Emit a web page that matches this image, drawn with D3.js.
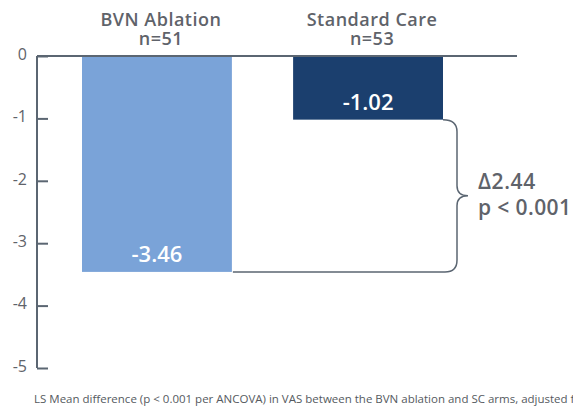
<!DOCTYPE html>
<html>
<head>
<meta charset="utf-8">
<script src="https://cdn.jsdelivr.net/npm/d3@7"></script>
<style>
  body { margin: 0; background: #fff; }
  svg { display: block; font-family: "Open Sans", Lato, sans-serif; }
</style>
</head>
<body>
<div id="vis"></div>
<script>
// chart data
const groups = ["BVN Ablation", "Standard Care"];
const sizes = ["n=51", "n=53"];
const means = [-3.46, -1.02];
const yTicks = [0, -1, -2, -3, -4, -5];
const deltaLabel = "\u03942.44";
const pLabel = "p < 0.001";
const footnote = "LS Mean difference (p < 0.001 per ANCOVA) in VAS between the BVN ablation and SC arms, adjusted for";

const width = 573;
const height = 407;
const colors = ["#7aa3d8", "#1b3f6e"];
const grey = "#5f636a";
const axisColor = "#5b6672";

const svg = d3.select("#vis")
  .append("svg")
  .attr("width", width)
  .attr("height", height);

const y = d3.scaleLinear()
  .domain([0, -5])
  .range([56, 368]);

const x = d3.scaleBand()
  .domain(groups)
  .range([82, 443])
  .paddingInner(0.29)
  .paddingOuter(0);

const axisX = 37;

// y axis
const yAxis = svg.append("g")
  .attr("transform", `translate(${axisX},0)`)
  .call(d3.axisRight(y).tickValues(yTicks).tickSize(11).tickFormat(d3.format("d")));
yAxis.select(".domain")
  .attr("stroke", axisColor)
  .attr("stroke-width", 2)
  .attr("d", `M0,${y(0)}V${y(-5)}`);
yAxis.selectAll(".tick line").attr("stroke", axisColor).attr("stroke-width", 2);
yAxis.selectAll(".tick text")
  .attr("x", -10)
  .attr("dy", "0.2em")
  .attr("text-anchor", "end")
  .attr("fill", grey)
  .attr("font-size", 16)
  .attr("font-family", "'Open Sans', sans-serif")
  .text(d => d === 0 ? "0" : String(d).replace("\u2212", "-"));

// bars
svg.append("g")
  .selectAll("rect")
  .data(means)
  .join("rect")
    .attr("x", (d, i) => x(groups[i]))
    .attr("y", y(0))
    .attr("width", x.bandwidth())
    .attr("height", d => y(d) - y(0))
    .attr("fill", (d, i) => colors[i]);

// zero line
svg.append("line")
  .attr("x1", axisX).attr("x2", 517)
  .attr("y1", y(0)).attr("y2", y(0))
  .attr("stroke", axisColor)
  .attr("stroke-width", 2);

// value labels inside bars
svg.append("g")
  .selectAll("text")
  .data(means)
  .join("text")
    .attr("x", (d, i) => x(groups[i]) + x.bandwidth() / 2)
    .attr("y", d => y(d) - 10)
    .attr("text-anchor", "middle")
    .attr("fill", "#fff")
    .attr("font-size", 22)
    .attr("font-weight", 600)
    .text(d => d.toFixed(2));

// group headers
const cx = d => x(d) + x.bandwidth() / 2 + 4;
svg.append("g")
  .selectAll("text")
  .data(groups)
  .join("text")
    .attr("x", cx)
    .attr("y", 26)
    .attr("text-anchor", "middle")
    .attr("fill", grey)
    .attr("font-size", 18)
    .attr("letter-spacing", 0.5)
    .attr("font-weight", 600)
    .text(d => d);
svg.append("g")
  .selectAll("text")
  .data(groups)
  .join("text")
    .attr("x", cx)
    .attr("y", 45)
    .attr("text-anchor", "middle")
    .attr("fill", grey)
    .attr("font-size", 18)
    .attr("letter-spacing", 0.5)
    .attr("font-weight", 600)
    .text((d, i) => sizes[i]);

// bracket between the two means
const xa = x(groups[0]) + x.bandwidth() + 1;
const xb = x(groups[1]) + x.bandwidth();
const yTop = y(means[1]);
const yBot = y(means[0]);
const yMid = (yTop + yBot) / 2;
const bx = xb + 14;
const tip = bx + 11;
const r = 12;
const bracket = d3.path();
bracket.moveTo(xa, yBot);
bracket.lineTo(xb + 2, yBot);
bracket.quadraticCurveTo(bx, yBot, bx, yBot - r);
bracket.lineTo(bx, yMid + 10);
bracket.quadraticCurveTo(bx, yMid, tip, yMid);
bracket.quadraticCurveTo(bx, yMid, bx, yMid - 10);
bracket.lineTo(bx, yTop + r);
bracket.quadraticCurveTo(bx, yTop, xb, yTop);
svg.append("path")
  .attr("d", bracket.toString())
  .attr("fill", "none")
  .attr("stroke", axisColor)
  .attr("stroke-width", 1.5);

// delta text
svg.append("text")
  .attr("x", 478).attr("y", 189)
  .attr("fill", grey)
  .attr("font-size", 21)
  .attr("letter-spacing", 0.6)
  .attr("font-weight", 600)
  .text(deltaLabel);
svg.append("text")
  .attr("x", 478).attr("y", 215)
  .attr("fill", grey)
  .attr("font-size", 21)
  .attr("letter-spacing", 0.4)
  .attr("font-weight", 600)
  .text(pLabel);

// footnote
svg.append("text")
  .attr("x", 34).attr("y", 403)
  .attr("fill", "#555a60")
  .attr("font-size", 11.5)
  .attr("letter-spacing", 0)
  .text(footnote);
</script>
</body>
</html>
